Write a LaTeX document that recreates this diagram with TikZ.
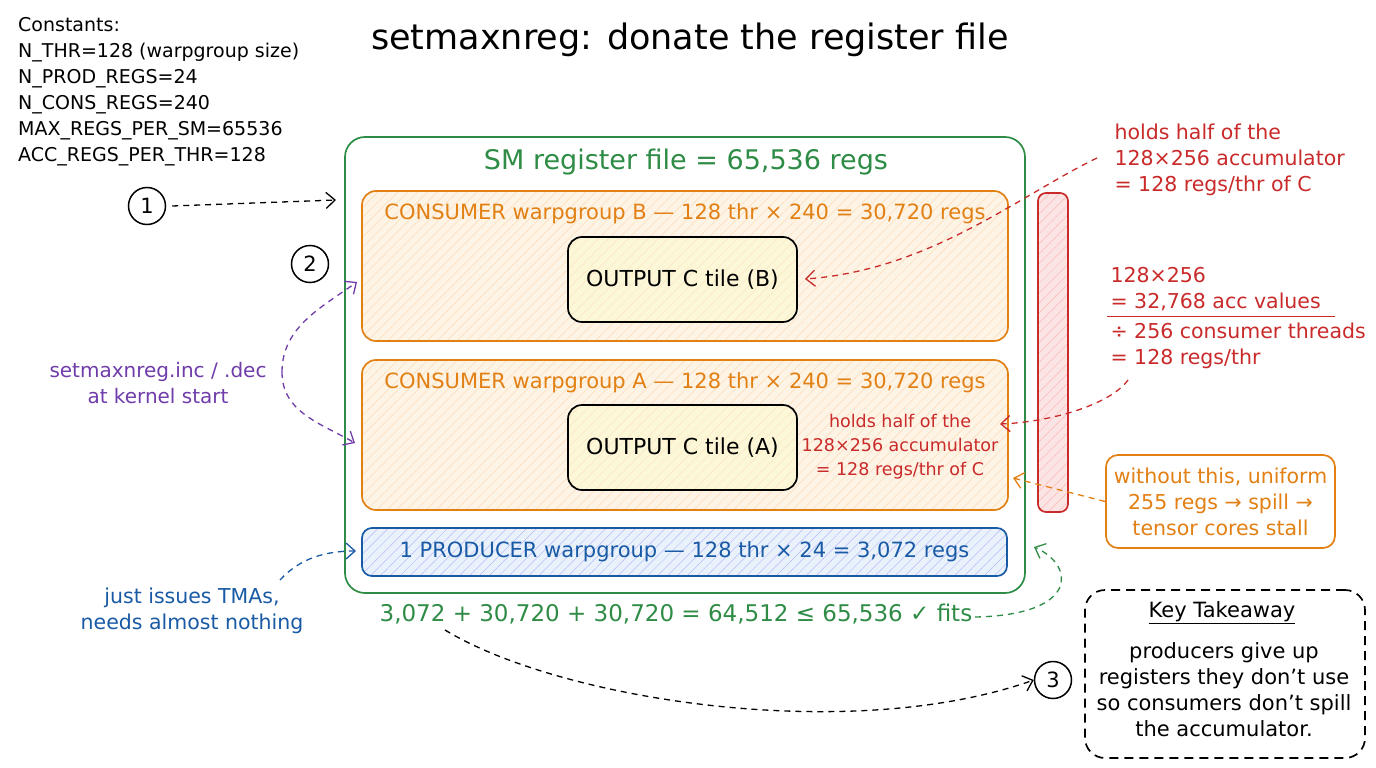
\documentclass[tikz,border=0pt]{standalone}
\usepackage{fontspec}
\setmainfont{DejaVu Sans}
\usetikzlibrary{arrows.meta,patterns.meta}
\definecolor{cgreen}{RGB}{47,140,70}
\definecolor{corange}{RGB}{226,128,20}
\definecolor{cred}{RGB}{201,42,42}
\definecolor{cblue}{RGB}{25,90,165}
\definecolor{cpurple}{RGB}{112,60,170}
\definecolor{forange}{RGB}{253,244,230}
\definecolor{fyellow}{RGB}{251,247,215}
\definecolor{fblue}{RGB}{233,242,251}
\definecolor{fred}{RGB}{251,228,228}
\tikzset{
  box/.style={draw, rounded corners=14pt, line width=1.7pt, inner sep=0pt},
  hatchbox/.style={box, draw=#1, preaction={fill=f#1},
     pattern={Lines[angle=45,distance=7pt,line width=0.5pt]}, pattern color=#1!28},
  arr/.style={dash pattern=on 6pt off 5pt, line width=1.3pt, -{Straight Barb[length=9pt,width=16pt,line width=1.3pt]}},
  num/.style={draw, circle, line width=1.5pt, minimum size=37pt, inner sep=0pt, font=\fontsize{21}{21}\selectfont},
  fs/.style={font=\fontsize{#1}{26}\selectfont, align=center},
}
\begin{document}
\begin{tikzpicture}[x=1pt,y=-1pt]
\useasboundingbox[fill=white] (0,0) rectangle (1376,768);

% title and constants
\node[font=\fontsize{35}{35}\selectfont] (title) at (690,40) {setmaxnreg: donate the register file};
\node[anchor=north west, align=left, font=\fontsize{19}{26}\selectfont, inner sep=0pt] (const) at (18,17)
 {Constants:\\N\_THR=128 (warpgroup size)\\N\_PROD\_REGS=24\\N\_CONS\_REGS=240\\MAX\_REGS\_PER\_SM=65536\\ACC\_REGS\_PER\_THR=128};

% SM register file
\node[box, draw=cgreen, rounded corners=20pt, minimum width=680pt, minimum height=456pt] (sm) at (685,365) {};
\node[text=cgreen, font=\fontsize{27}{27}\selectfont] (smt) at (686,162) {SM register file = 65,536 regs};

\node[hatchbox=orange, draw=corange, minimum width=646pt, minimum height=150pt] (consB) at (685,266) {};
\node[fs=21, text=corange] (consBt) at (685,214) {CONSUMER warpgroup B --- 128 thr × 240 = 30,720 regs};
\node[hatchbox=yellow, draw=black, pattern color=orange!22, minimum width=229pt, minimum height=85pt] (tileB) at (682.5,279.5) {};
\node[fs=22] at (tileB) {OUTPUT C tile (B)};

\node[hatchbox=orange, draw=corange, minimum width=646pt, minimum height=150pt] (consA) at (685,435) {};
\node[fs=21, text=corange] (consAt) at (685,383) {CONSUMER warpgroup A --- 128 thr × 240 = 30,720 regs};
\node[hatchbox=yellow, draw=black, pattern color=orange!22, minimum width=229pt, minimum height=85pt] (tileA) at (682.5,447.5) {};
\node[fs=22] at (tileA) {OUTPUT C tile (A)};
\node[text=cred, font=\fontsize{17.5}{24}\selectfont, align=center] (halfA) at (900,447) {holds half of the\\128×256 accumulator\\= 128 regs/thr of C};

\node[hatchbox=blue, draw=cblue, rounded corners=10pt, minimum width=645pt, minimum height=48pt] (prod) at (684.5,552) {};
\node[fs=21, text=cblue] at (prod) {1 PRODUCER warpgroup --- 128 thr × 24 = 3,072 regs};

\node[text=cgreen, font=\fontsize{23}{23}\selectfont] (eq) at (676,614) {3,072 + 30,720 + 30,720 = 64,512 ≤ 65,536 ✓ fits};

% red bar
\node[hatchbox=red, draw=cred, rounded corners=8pt, minimum width=30pt, minimum height=319pt] (bar) at (1053,352.5) {};

% right annotations
\node[fs=20.5, align=left, anchor=west, text=cred] (topnote) at (1111,160) {holds half of the\\128×256 accumulator\\= 128 regs/thr of C};
\node[fs=20.5, align=left, anchor=west, text=cred] (frac1) at (1107,289) {128×256\\= 32,768 acc values};
\node[fs=20.5, align=left, anchor=west, text=cred] (frac2) at (1107,346) {÷ 256 consumer threads\\= 128 regs/thr};
\draw[cred, line width=1.2pt] (frac1.south west) ++(0,2) coordinate (fb1) -- ++(228,0) coordinate (fb2);

\node[box, draw=corange, minimum width=229pt, minimum height=93pt, rounded corners=12pt] (warn) at (1220.5,501.5) {};
\node[fs=20.5, text=corange] at (warn) {without this, uniform\\255 regs → spill →\\tensor cores stall};

\node[box, draw=black, dash pattern=on 9pt off 6pt, rounded corners=20pt, minimum width=280pt, minimum height=168pt] (key) at (1225,674) {};
\node[font=\fontsize{21}{21}\selectfont] (keyt) at (1222,613) {\underline{Key Takeaway}};
\node[fs=21] (keyb) at (1224,690) {producers give up\\registers they don't use\\so consumers don't spill\\the accumulator.};

% left annotations
\node[num] (c1) at (147,206) {1};
\node[num] (c2) at (310,264) {2};
\node[num] (c3) at (1053,680) {3};
\node[fs=20, text=cpurple] (purp) at (158,383) {setmaxnreg.inc / .dec\\at kernel start};
\node[fs=20.5, text=cblue] (tma) at (192,611) {just issues TMAs,\\needs almost nothing};

% connectors
\coordinate (a1) at (336,200);
\draw[arr] (c1.east) ++(6,0) -- (a1);

\coordinate (pm) at (282,372);
\coordinate (p1) at (357,282);
\coordinate (p2) at (355,443);
\draw[arr, cpurple] (pm) .. controls +(0,-45) and +(-35,25) .. (p1);
\draw[arr, cpurple] (pm) .. controls +(0,40) and +(-35,-20) .. (p2);

\coordinate (bs) at (280,580);
\coordinate (be) at (356,551);
\draw[arr, cblue] (bs) .. controls +(20,-22) and +(-30,0) .. (be);

\coordinate (rs) at (1097,158);
\coordinate (re) at (805,279);
\draw[arr, cred] (rs) .. controls (1020,195) and (930,270) .. (re);

\coordinate (ms) at (1128,380);
\coordinate (me) at (1000,424);
\draw[arr, cred] (ms) .. controls (1110,405) and (1050,422) .. (me);

\coordinate (oe) at (1013,478);
\draw[arr, corange] (warn.west) -- (oe);

\coordinate (gs) at (975,617);
\coordinate (ge) at (1034,547);
\draw[arr, cgreen] (gs) .. controls (1080,615) and (1075,565) .. (ge);

\coordinate (ks) at (445,630);
\draw[arr] (ks) .. controls (560,700) and (850,745) .. (c3.west);
\end{tikzpicture}
\end{document}
